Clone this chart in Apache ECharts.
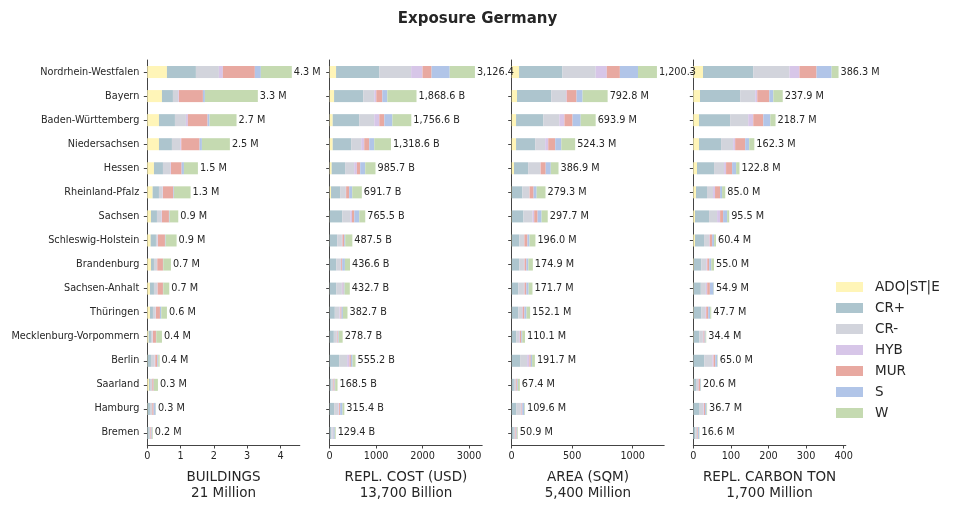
<!DOCTYPE html>
<html>
<head>
<meta charset="utf-8">
<script src="https://cdn.jsdelivr.net/npm/echarts@6/dist/echarts.min.js"></script>
<style>
  html, body { margin: 0; padding: 0; background: #fff; }
  #main { width: 955px; height: 510px; }
</style>
</head>
<body>
<div id="main"></div>
<script>
var states = ['Nordrhein-Westfalen', 'Bayern', 'Baden-Württemberg', 'Niedersachsen', 'Hessen',
    'Rheinland-Pfalz', 'Sachsen', 'Schleswig-Holstein', 'Brandenburg', 'Sachsen-Anhalt',
    'Thüringen', 'Mecklenburg-Vorpommern', 'Berlin', 'Saarland', 'Hamburg', 'Bremen'];
var types = ['ADO|ST|E', 'CR+', 'CR-', 'HYB', 'MUR', 'S', 'W'];
var typeColors = ['#fff5b8', '#adc5ce', '#d2d4dc', '#d7c6e8', '#e8a9a1', '#b1c5e8', '#c5dab1'];

// BUILDINGS (million)
var bldAdo = [0.59, 0.44, 0.35, 0.35, 0.20, 0.16, 0.11, 0.10, 0.11, 0.08, 0.08, 0.04, 0.01, 0.05, 0.01, 0.005];
var bldCrp = [0.87, 0.33, 0.48, 0.39, 0.27, 0.19, 0.18, 0.16, 0.09, 0.12, 0.09, 0.07, 0.10, 0.03, 0.07, 0.04];
var bldCrm = [0.69, 0.16, 0.33, 0.25, 0.22, 0.11, 0.13, 0.05, 0.09, 0.10, 0.08, 0.05, 0.11, 0.06, 0.06, 0.04];
var bldHyb = [0.12, 0.02, 0.06, 0.03, 0.02, 0.01, 0.02, 0.01, 0.01, 0.01, 0.01, 0.01, 0.02, 0.01, 0.01, 0.01];
var bldMur = [0.96, 0.72, 0.59, 0.55, 0.32, 0.31, 0.21, 0.21, 0.17, 0.16, 0.12, 0.09, 0.06, 0.04, 0.04, 0.03];
var bldS   = [0.18, 0.06, 0.06, 0.07, 0.07, 0.02, 0.02, 0.02, 0.01, 0.01, 0.04, 0.01, 0.03, 0.01, 0.06, 0.02];
var bldW   = [0.93, 1.59, 0.81, 0.84, 0.42, 0.50, 0.26, 0.33, 0.23, 0.18, 0.17, 0.17, 0.04, 0.12, 0.01, 0.02];

// REPL. COST (billion USD)
var costAdo = [137, 94, 65, 65, 43, 29, 3, 2, 2, 2, 2, 2, 1, 2, 1, 1];
var costCrp = [931, 628, 570, 397, 289, 195, 267, 159, 137, 137, 108, 87, 202, 36, 94, 36];
var costCrm = [685, 238, 325, 216, 195, 123, 173, 101, 101, 123, 101, 65, 173, 36, 94, 29];
var costHyb = [245, 43, 108, 65, 58, 7, 36, 14, 7, 22, 22, 14, 51, 7, 14, 7];
var costMur = [195, 130, 108, 108, 72, 65, 51, 36, 22, 14, 22, 14, 29, 22, 22, 7];
var costS   = [390, 108, 173, 108, 108, 65, 108, 22, 58, 22, 29, 14, 36, 14, 51, 29];
var costW   = [543.4, 627.6, 407.6, 359.6, 220.7, 207.7, 127.5, 153.5, 109.6, 112.7, 98.7, 82.7, 63.2, 51.5, 39.4, 20.4];

// AREA (million sqm)
var areaAdo = [61, 44, 36, 36, 19, 2, 2, 2, 1, 1, 1, 1, 0.5, 1, 0.5, 0.3];
var areaCrp = [358, 283, 225, 158, 117, 86, 95, 61, 61, 53, 53, 36, 69, 17, 36, 17];
var areaCrm = [275, 122, 133, 83, 100, 58, 75, 39, 39, 47, 31, 25, 58, 17, 39, 11];
var areaHyb = [92, 6, 42, 25, 3, 2, 14, 3, 6, 6, 6, 6, 19, 3, 6, 3];
var areaMur = [108, 81, 67, 58, 42, 33, 28, 25, 14, 14, 14, 11, 11, 8, 6, 8];
var areaS   = [150, 50, 67, 50, 42, 25, 33, 17, 17, 19, 17, 8, 11, 6, 17, 6];
var areaW   = [156.3, 206.8, 123.9, 114.3, 63.9, 73.3, 50.7, 49.0, 36.9, 31.7, 30.1, 23.1, 23.2, 15.4, 5.1, 5.6];

// REPL. CARBON TON (million)
var carbAdo = [25.8, 17.8, 15.1, 15.1, 9.8, 7.1, 4.5, 4.5, 1.5, 1.0, 1.0, 1.0, 0.5, 1.0, 0.5, 0.2];
var carbCrp = [133.7, 106.9, 82.9, 58.8, 45.4, 29.4, 37.4, 24.1, 19.6, 19.0, 20.0, 14.6, 28.5, 6.2, 14.7, 5.3];
var carbCrm = [96.2, 40.1, 48.1, 32.1, 26.7, 16.0, 21.4, 13.4, 13.4, 13.4, 10.7, 9.8, 21.4, 5.3, 11.6, 4.5];
var carbHyb = [26.7, 5.3, 13.4, 5.3, 5.3, 5.3, 8.0, 1.8, 2.7, 3.6, 2.7, 1.8, 3.6, 1.8, 1.8, 0.9];
var carbMur = [45.4, 32.1, 26.7, 26.7, 16.0, 13.4, 8.0, 6.2, 5.3, 7.1, 5.3, 2.7, 4.5, 3.6, 2.7, 1.8];
var carbS   = [40.1, 10.7, 18.7, 10.7, 10.7, 5.3, 10.7, 5.3, 5.3, 9.8, 5.3, 2.7, 5.3, 1.8, 3.6, 2.7];
var carbW   = [18.4, 25.0, 13.8, 13.6, 8.9, 8.5, 5.5, 5.1, 7.2, 1.0, 2.7, 1.8, 1.2, 0.9, 1.8, 1.2];

var panelTitles = ['BUILDINGS\n21 Million', 'REPL. COST (USD)\n13,700 Billion',
    'AREA (SQM)\n5,400 Million', 'REPL. CARBON TON\n1,700 Million'];
var panelUnits = [' M', ' B', ' M', ' M'];
var panelMax = [4.58, 3282.7, 1260.3, 405.6];
var panelInterval = [1, 1000, 500, 100];
var panelData = [
    [bldAdo, bldCrp, bldCrm, bldHyb, bldMur, bldS, bldW],
    [costAdo, costCrp, costCrm, costHyb, costMur, costS, costW],
    [areaAdo, areaCrp, areaCrm, areaHyb, areaMur, areaS, areaW],
    [carbAdo, carbCrp, carbCrm, carbHyb, carbMur, carbS, carbW]
];

var gridLeft = [147.3, 329.7, 511.7, 693.3];
var gridWidth = 152.5;
var textColor = '#262626';
var axisColor = '#444';
var font = 'DejaVu Sans';

function withCommas(v){
    var s = v.toFixed(1);
    var parts = s.split('.');
    parts[0] = parts[0].replace(/\B(?=(\d{3})+(?!\d))/g, ',');
    return parts.join('.');
}

function rowTotals(arrs){
    var tot = [];
    for(var i = 0; i < states.length; i++){
        var s = 0;
        for(var k = 0; k < arrs.length; k++){
            s += arrs[k][i];
        }
        tot.push(s);
    }
    return tot;
}

var grids = [], xAxes = [], yAxes = [], series = [];

for(var p = 0; p < 4; p++){
    grids.push({left: gridLeft[p], width: gridWidth, top: 60, height: 385});
    xAxes.push({
        type: 'value', gridIndex: p, min: 0, max: panelMax[p], interval: panelInterval[p],
        name: panelTitles[p], nameLocation: 'middle', nameGap: 24,
        nameTextStyle: {fontFamily: font, fontSize: 13.5, lineHeight: 16, color: textColor, verticalAlign: 'top'},
        axisLine: {show: true, lineStyle: {color: axisColor, width: 1}},
        axisTick: {show: true, length: 3.5, lineStyle: {color: axisColor}},
        axisLabel: {fontFamily: font, fontSize: 9.7, color: textColor, margin: 6,
            showMaxLabel: false, formatter: function(v){ return String(v); }},
        splitLine: {show: false}
    });
    yAxes.push({
        type: 'category', gridIndex: p, data: states, inverse: true,
        axisLine: {show: true, lineStyle: {color: axisColor, width: 1}},
        axisTick: {show: true, length: 3.5, alignWithLabel: true, lineStyle: {color: axisColor}},
        axisLabel: {show: p === 0, fontFamily: font, fontSize: 9.7, color: textColor, margin: 8},
        splitLine: {show: false}
    });

    var totals = rowTotals(panelData[p]);
    for(var t = 0; t < types.length; t++){
        var s = {
            name: types[t], type: 'bar', stack: 'panel' + p,
            xAxisIndex: p, yAxisIndex: p, barWidth: '50%',
            itemStyle: {color: typeColors[t]},
            emphasis: {disabled: true},
            data: panelData[p][t].slice()
        };
        if(t === types.length - 1){
            // last stack piece carries the total label; cut it at the next panel like matplotlib does
            var items = [];
            for(var i = 0; i < states.length; i++){
                var item = {value: panelData[p][t][i]};
                if(p < 3){
                    var barEnd = gridLeft[p] + totals[i] / panelMax[p] * gridWidth;
                    item.label = {width: Math.max(10, gridLeft[p + 1] - barEnd + 3)};
                }
                items.push(item);
            }
            s.data = items;
            (function(tot, unit, pi){
                s.label = {
                    show: true, position: 'right', distance: 2,
                    fontFamily: font, fontSize: 9.7, color: textColor,
                    overflow: 'truncate', ellipsis: '\u200b',
                    formatter: function(params){
                        var v = tot[params.dataIndex];
                        return (pi === 1 || pi === 2 ? withCommas(v) : v.toFixed(1)) + unit;
                    }
                };
            })(totals, panelUnits[p], p);
        }
        series.push(s);
    }
}

var chart = echarts.init(document.getElementById('main'), null, {renderer: 'canvas'});
chart.setOption({
    animation: false,
    backgroundColor: '#fff',
    title: {
        text: 'Exposure Germany', left: 'center', top: 7,
        textStyle: {fontFamily: font, fontSize: 15, fontWeight: 'bold', color: textColor}
    },
    legend: {
        data: types, orient: 'vertical', left: 831, top: 275,
        itemWidth: 27, itemHeight: 10, itemGap: 7, icon: 'rect',
        textStyle: {fontFamily: font, fontSize: 13.5, color: textColor, padding: [0, 0, 0, 7]}
    },
    grid: grids,
    xAxis: xAxes,
    yAxis: yAxes,
    series: series
});
</script>
</body>
</html>
